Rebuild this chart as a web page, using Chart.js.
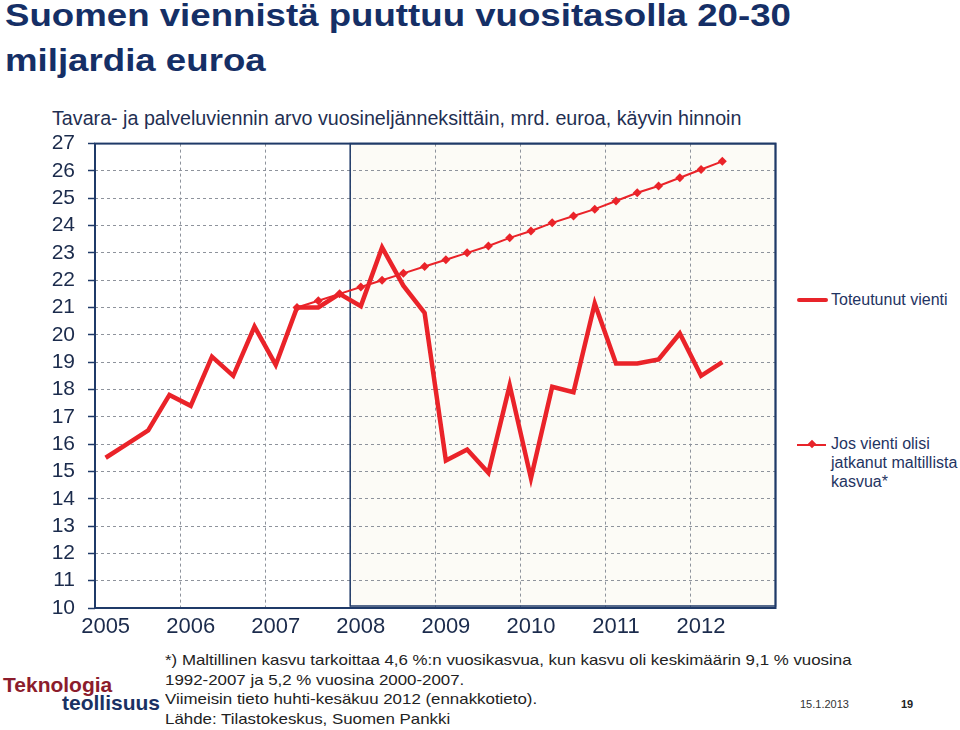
<!DOCTYPE html>
<html>
<head>
<meta charset="utf-8">
<script src="https://cdn.jsdelivr.net/npm/chart.js@4.4.1/dist/chart.umd.min.js"></script>
<style>
  body { margin: 0; width: 960px; height: 730px; background: #fff; position: relative; overflow: hidden;
         font-family: "Liberation Sans", Arial, sans-serif; }
  .abs { position: absolute; white-space: nowrap; }
  #title { left: 5px; top: -7px; font-size: 32px; line-height: 45px; font-weight: bold; color: #152f66;
           transform: scaleX(1.145); transform-origin: 0 0; }
  #subtitle { left: 52px; top: 107px; font-size: 19.7px; line-height: 22px; color: #1f2f52; }
  #chartBox { position: absolute; left: 0; top: 118px; width: 780px; height: 522px; }
  .leg { font-size: 16px; line-height: 19px; color: #1f3462; }
  .note { left: 165px; top: 650px; font-size: 15px; line-height: 19.5px; color: #222;
          transform: scaleX(1.125); transform-origin: 0 0; }
  .logo { font-weight: bold; font-size: 21px; line-height: 24px; }
</style>
</head>
<body>
<div id="title" class="abs">Suomen viennistä puuttuu vuositasolla 20-30<br>miljardia euroa</div>
<div id="subtitle" class="abs">Tavara- ja palveluviennin arvo vuosineljänneksittäin, mrd. euroa, käyvin hinnoin</div>

<div id="chartBox"><canvas id="chart"></canvas></div>

<!-- legend -->
<div class="abs" style="left:797px;top:298px;width:31px;height:4px;background:#e8242a;border-radius:2px"></div>
<div class="abs leg" style="left:831px;top:290px">Toteutunut vienti</div>
<div class="abs" style="left:797px;top:444px;width:29px;height:2px;background:#e8242a"></div>
<div class="abs" style="left:809px;top:441px;width:6px;height:6px;background:#e8242a;transform:rotate(45deg)"></div>
<div class="abs leg" style="left:831px;top:434px">Jos vienti olisi<br>jatkanut maltillista<br>kasvua*</div>

<!-- footer -->
<div class="abs note">*) Maltillinen kasvu tarkoittaa 4,6 %:n vuosikasvua, kun kasvu oli keskimäärin 9,1 % vuosina<br>1992-2007 ja 5,2 % vuosina 2000-2007.<br>Viimeisin tieto huhti-kesäkuu 2012 (ennakkotieto).<br>Lähde: Tilastokeskus, Suomen Pankki</div>
<div class="abs logo" style="left:3px;top:673px;color:#8c1c2c">Teknologia</div>
<div class="abs logo" style="left:62px;top:691px;color:#1a3163">teollisuus</div>
<div class="abs" style="left:800px;top:698px;font-size:11px;color:#333">15.1.2013</div>
<div class="abs" style="left:901px;top:698px;font-size:11px;font-weight:bold;color:#222">19</div>

<script>
const years = ['2005', '2006', '2007', '2008', '2009', '2010', '2011', '2012'];
const quarters = ['Q1', 'Q2', 'Q3', 'Q4'];

// toteutunut vienti, mrd. euroa, 2005Q1 - 2012Q2
const actual = [15.5, 16.0, 16.5, 17.8, 17.4, 19.2, 18.5, 20.3, 18.9, 21.0,
                21.0, 21.5, 21.05, 23.2, 21.8, 20.8, 15.4, 15.8, 14.95, 18.15,
                14.75, 18.1, 17.9, 21.15, 18.95, 18.95, 19.1, 20.05, 18.5, 19.0];

// jos vienti olisi jatkanut maltillista kasvua (alkaa 2007Q2)
const trend = [null, null, null, null, null, null, null, null, null, 21.0,
               21.25, 21.5, 21.75, 22.0, 22.25, 22.5, 22.75, 23.0, 23.25, 23.55,
               23.8, 24.1, 24.35, 24.6, 24.9, 25.2, 25.45, 25.75, 26.05, 26.35];

const yMin = 10, yMax = 27;
const shadeFrom = '2008 Q1';

const labels = years.flatMap(y => quarters.map(q => y + ' ' + q));

const navy = '#1f3a68';
const gridGray = '#8e939c';
const red = '#ea2329';

function shadeStart(x) {
    const i = labels.indexOf(shadeFrom);
    return (x.getPixelForValue(i - 1) + x.getPixelForValue(i)) / 2;
}

const backdrop = {
    id: 'backdrop',
    beforeDraw(chart) {
        const {ctx, chartArea: a, scales: {x}} = chart;
        const sx = shadeStart(x);
        ctx.save();
        ctx.fillStyle = '#fcfbf6';
        ctx.fillRect(sx, a.top, a.right - sx, a.bottom - a.top);
        ctx.restore();
    },
    beforeDatasetsDraw(chart) {
        const {ctx, chartArea: a, scales: {x}} = chart;
        const sx = shadeStart(x);
        ctx.save();
        ctx.strokeStyle = navy;
        ctx.lineWidth = 2;
        ctx.strokeRect(a.left, a.top, a.right - a.left, a.bottom - a.top);
        ctx.lineWidth = 1.5;
        ctx.strokeRect(sx, a.top, a.right - sx, a.bottom - a.top - 2);
        ctx.restore();
    }
};

new Chart(document.getElementById('chart'), {
    type: 'line',
    data: {
        labels: labels,
        datasets: [
            {
                label: 'Toteutunut vienti',
                data: actual,
                borderColor: red,
                borderWidth: 4.5,
                borderJoinStyle: 'miter',
                pointRadius: 0,
                tension: 0,
                order: 1
            },
            {
                label: 'Jos vienti olisi jatkanut maltillista kasvua*',
                data: trend,
                borderColor: red,
                backgroundColor: red,
                borderWidth: 2,
                pointStyle: 'rectRot',
                pointRadius: 4.5,
                pointBackgroundColor: red,
                pointBorderWidth: 0,
                tension: 0,
                order: 2
            }
        ]
    },
    options: {
        responsive: true,
        maintainAspectRatio: false,
        animation: false,
        layout: {padding: {top: 0, right: 4, left: 0, bottom: 0}},
        plugins: {
            legend: {display: false},
            tooltip: {enabled: false}
        },
        scales: {
            x: {
                offset: true,
                afterFit: s => { s.height = 32; },
                grid: {
                    offset: true,
                    drawTicks: false,
                    lineWidth: 1,
                    color: c => (c.index !== undefined && c.index % 4 === 0) ? gridGray : 'transparent'
                },
                border: {display: false, dash: [3, 3]},
                ticks: {
                    autoSkip: false,
                    maxRotation: 0,
                    padding: 6,
                    color: '#1b2b4c',
                    font: {family: 'Liberation Sans', size: 22},
                    callback: (v, i) => i % 4 === 0 ? years[i / 4] : ''
                }
            },
            y: {
                min: yMin,
                max: yMax,
                afterFit: s => { s.width = 95; },
                grid: {
                    color: gridGray,
                    lineWidth: 1,
                    tickLength: 7,
                    tickColor: navy,
                    tickWidth: 1.5,
                    tickBorderDash: [0, 0]
                },
                border: {display: false, dash: [3, 3]},
                ticks: {
                    stepSize: 1,
                    autoSkip: false,
                    padding: 13,
                    color: '#1b2b4c',
                    font: {family: 'Liberation Sans', size: 21}
                }
            }
        }
    },
    plugins: [backdrop]
});
</script>
</body>
</html>
